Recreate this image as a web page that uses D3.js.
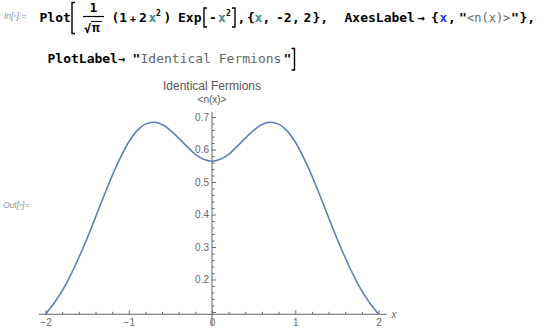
<!DOCTYPE html>
<html>
<head>
<meta charset="utf-8">
<script src="https://cdn.jsdelivr.net/npm/d3@7"></script>
<style>
  body { margin: 0; background: #fff; }
  .code { font-family: "DejaVu Sans Mono", monospace; font-weight: bold; font-size: 13px; fill: #000; }
  .str { font-weight: normal; fill: #666; }
  .tick text { font-family: "Liberation Sans", Arial, sans-serif; font-size: 10px; fill: #666; }
</style>
</head>
<body>
<div id="chart"></div>
<script>
var xValues = [-2, -1.9, -1.8, -1.7, -1.6, -1.5, -1.4, -1.3, -1.2, -1.1, -1, -0.9, -0.8, -0.7, -0.6, -0.5, -0.4, -0.3, -0.2, -0.1,
  0, 0.1, 0.2, 0.3, 0.4, 0.5, 0.6, 0.7, 0.8, 0.9, 1, 1.1, 1.2, 1.3, 1.4, 1.5, 1.6, 1.7, 1.8, 1.9, 2];
var nValues = [0.093, 0.126, 0.165, 0.213, 0.267, 0.327, 0.391, 0.456, 0.519, 0.575, 0.623, 0.658, 0.678, 0.684, 0.677, 0.659, 0.635, 0.609, 0.585, 0.570,
  0.564, 0.570, 0.585, 0.609, 0.635, 0.659, 0.677, 0.684, 0.678, 0.658, 0.623, 0.575, 0.519, 0.456, 0.391, 0.327, 0.267, 0.213, 0.165, 0.126, 0.093];

var xMajor = [-2, -1, 0, 1, 2];
var xMajorLabels = ["\u22122", "\u22121", "0", "1", "2"];
var xMinor = [-1.8, -1.6, -1.4, -1.2, -0.8, -0.6, -0.4, -0.2, 0.2, 0.4, 0.6, 0.8, 1.2, 1.4, 1.6, 1.8];
var yMajor = [0.1, 0.2, 0.3, 0.4, 0.5, 0.6, 0.7];
var yMajorLabels = ["", "0.2", "0.3", "0.4", "0.5", "0.6", "0.7"];
var yMinor = d3.range(0.1, 0.71, 0.02).filter(function(v) { return Math.abs(v * 10 - Math.round(v * 10)) > 0.01; });

var title = "Identical Fermions";
var yLabel = "<n(x)>";
var xLabel = "x";
var axisOriginY = 0.093;   // x axis sits at the bottom of the plot range
var xPadded = [-2.08, 2.1];
var yPadded = [0.059, 0.716];

var width = 546, height = 332;

var svg = d3.select("#chart").append("svg")
    .attr("width", width)
    .attr("height", height)
    .style("font-family", "'Liberation Sans', Arial, sans-serif");

svg.append("rect").attr("width", width).attr("height", height).attr("fill", "#fff");

// ---- notebook input cell ----
var teal = "#3f8a96", blue = "#1f3fd6";
var code = svg.append("g").attr("class", "code");

function txt(s, x, y, opts) {
  opts = opts || {};
  var t = code.append("text").attr("x", x).attr("y", y).text(s);
  if (opts.fill) t.attr("fill", opts.fill).style("fill", opts.fill);
  if (opts.size) t.style("font-size", opts.size + "px");
  if (opts.anchor) t.attr("text-anchor", opts.anchor);
  if (opts.cls) t.attr("class", opts.cls);
  return t;
}
function bracket(x, y1, y2, open) {
  var d = open ? 1 : -1;
  code.append("path")
      .attr("d", "M" + (x + 3 * d) + "," + y1 + "H" + x + "V" + y2 + "H" + (x + 3 * d))
      .attr("fill", "none").attr("stroke", "#000").attr("stroke-width", 1.4);
}

svg.append("text").attr("x", 4).attr("y", 19)
    .attr("font-size", 8.5).attr("font-style", "italic").attr("fill", "#8a929c")
    .html("In[<tspan fill='#c4c8cc'>\u2022</tspan>]:=");

var b1 = 22;
txt("Plot", 39.5, b1);
bracket(72, 2.5, 33.5, true);
txt("1", 93.5, 12, {anchor: "middle"});
code.append("line").attr("x1", 83).attr("x2", 104).attr("y1", 16.5).attr("y2", 16.5)
    .attr("stroke", "#000").attr("stroke-width", 1.2);
txt("\u221A", 84, 32.5, {size: 12});
code.append("line").attr("x1", 91).attr("x2", 102).attr("y1", 21.5).attr("y2", 21.5)
    .attr("stroke", "#000").attr("stroke-width", 1);
txt("\u03C0", 92, 32);
txt("(1", 111.5, b1);
txt("+", 130, b1, {size: 10});
txt("2", 139, b1);
txt("x", 148.5, b1, {fill: teal});
txt("2", 156, 15.5, {size: 8});
txt(")", 163.5, b1);
txt("Exp", 178, b1);
bracket(204, 8, 27, true);
txt("-", 209, b1);
txt("x", 218, b1, {fill: teal});
txt("2", 226, 15.5, {size: 8});
bracket(235, 8, 27, false);
txt(",", 237.5, b1);
txt("{", 247, b1);
txt("x", 254.5, b1, {fill: teal});
txt(",", 262.5, b1);
txt("-2", 276, b1);
txt(",", 292, b1);
txt("2", 303.5, b1);
txt("},", 312.5, b1);
txt("AxesLabel", 344.5, b1);
txt("\u2192", 417.5, b1, {size: 12});
txt("{", 431, b1);
txt("x", 439.5, b1, {fill: blue});
txt(",", 448, b1);
txt("\"", 459, b1);
txt("<n(x)>", 467, b1, {cls: "code str", size: 12});
txt("\"", 511, b1);
txt("},", 519.5, b1);

var b2 = 63;
txt("PlotLabel", 47.5, b2);
txt("\u2192", 118, b2, {size: 12});
txt("\"", 132.5, b2);
txt("Identical Fermions", 140.5, b2, {cls: "code str"});
txt("\"", 283.5, b2);
bracket(294.5, 48.5, 70, false);

svg.append("text").attr("x", 3).attr("y", 208)
    .attr("font-size", 8.5).attr("font-style", "italic").attr("fill", "#8a929c")
    .html("Out[<tspan fill='#c4c8cc'>\u2022</tspan>]=");

// ---- plot ----
var xScale = d3.scaleLinear().domain([-2, 2]).range([45.5, 378.5]);
var yScale = d3.scaleLinear().domain([0.1, 0.7]).range([312, 117]);

var axisCol = "#666";

// axes lines
svg.append("line")
    .attr("x1", xScale(xPadded[0])).attr("x2", xScale(xPadded[1]))
    .attr("y1", yScale(axisOriginY)).attr("y2", yScale(axisOriginY))
    .attr("stroke", axisCol).attr("stroke-width", 1);
svg.append("line")
    .attr("x1", xScale(0)).attr("x2", xScale(0))
    .attr("y1", yScale(yPadded[0])).attr("y2", yScale(yPadded[1]))
    .attr("stroke", axisCol).attr("stroke-width", 1);

// x axis ticks
var gx = svg.append("g")
    .attr("transform", "translate(0," + yScale(axisOriginY) + ")")
    .call(d3.axisBottom(xScale).tickValues(xMajor)
      .tickFormat(function(d, i) { return xMajorLabels[i]; })
      .tickSize(-4).tickPadding(5));
var gxm = svg.append("g")
    .attr("transform", "translate(0," + yScale(axisOriginY) + ")")
    .call(d3.axisBottom(xScale).tickValues(xMinor).tickFormat("").tickSize(-2.5));

// y axis ticks
var gy = svg.append("g")
    .attr("transform", "translate(" + xScale(0) + ",0)")
    .call(d3.axisLeft(yScale).tickValues(yMajor)
      .tickFormat(function(d, i) { return yMajorLabels[i]; })
      .tickSize(-4).tickPadding(3));
var gym = svg.append("g")
    .attr("transform", "translate(" + xScale(0) + ",0)")
    .call(d3.axisLeft(yScale).tickValues(yMinor).tickFormat("").tickSize(-2.5));

[gx, gxm, gy, gym].forEach(function(g) {
  g.select(".domain").remove();
  g.selectAll(".tick line").attr("stroke", axisCol);
});
gx.selectAll(".tick text").attr("font-size", null);
gy.selectAll(".tick text").attr("font-size", null);

// the curve
var line = d3.line()
    .x(function(d, i) { return xScale(xValues[i]); })
    .y(function(d) { return yScale(d); })
    .curve(d3.curveCatmullRom.alpha(0.5));

svg.append("path")
    .datum(nValues)
    .attr("fill", "none")
    .attr("stroke", "#5e81b5")
    .attr("stroke-width", 1.6)
    .attr("d", line);

// labels
svg.append("text")
    .attr("x", xScale(0)).attr("y", 89.5)
    .attr("text-anchor", "middle")
    .attr("font-size", 12).attr("fill", "#555")
    .text(title);
svg.append("text")
    .attr("x", xScale(0)).attr("y", 102.5)
    .attr("text-anchor", "middle")
    .attr("font-size", 10).attr("fill", "#555")
    .text(yLabel);
svg.append("text")
    .attr("x", 391.5).attr("y", 318)
    .attr("font-size", 10).attr("font-style", "italic").attr("fill", "#666")
    .text(xLabel);
</script>
</body>
</html>
